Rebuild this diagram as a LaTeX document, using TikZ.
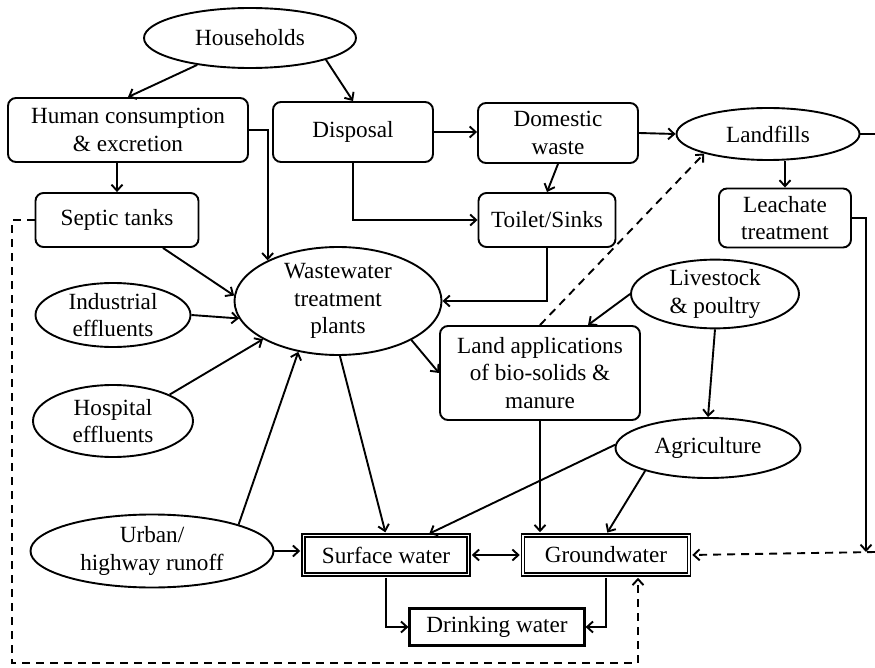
\documentclass[tikz,border=0pt]{standalone}
\usepackage{fontspec}
\setmainfont{Liberation Serif}
\usetikzlibrary{arrows.meta,shapes.geometric,calc}
\begin{document}
\begin{tikzpicture}[x=1pt,y=-1pt,
  every node/.style={font=\fontsize{23.2}{27.5}\selectfont, align=center, inner sep=0pt},
  box/.style={draw, rounded corners=8pt, line width=1.9pt},
  oval/.style={draw, ellipse, line width=1.9pt},
  dbox/.style={draw, double, line width=1.5pt, double distance=1.8pt},
  plainbox/.style={draw, line width=2.2pt},
  arr/.style={-{Straight Barb[length=6pt,width=11pt]}, line width=1.9pt},
  biarr/.style={{Straight Barb[length=6pt,width=11pt]}-{Straight Barb[length=6pt,width=11pt]}, line width=1.9pt},
  dasharr/.style={arr, dash pattern=on 8pt off 6pt},
  plain/.style={line width=1.9pt}
]
\useasboundingbox (0,0) rectangle (875,668);
\fill[white] (0,0) rectangle (875,668);

% nodes
\node[oval, minimum width=212pt, minimum height=60pt] (hh) at (250,38) {Households};
\node[box, minimum width=240pt, minimum height=64pt] (hum) at (128,130) {Human consumption\\\& excretion};
\node[box, minimum width=160pt, minimum height=60pt] (disp) at (353,132) {Disposal};
\node[box, minimum width=160pt, minimum height=60pt] (dom) at (558,133) {Domestic\\waste};
\node[box, minimum width=137pt, minimum height=54pt] (toil) at (547,220) {Toilet/Sinks};
\node[oval, minimum width=183pt, minimum height=52pt] (land) at (768,134) {Landfills};
\node[box, minimum width=132pt, minimum height=59pt] (leach) at (785,218) {Leachate\\treatment};
\node[box, minimum width=163pt, minimum height=54pt] (sept) at (117,220) {Septic tanks};
\node[oval, minimum width=207pt, minimum height=108pt] (wwtp) at (338,301) {Wastewater\\treatment\\plants};
\node[oval, minimum width=155pt, minimum height=64pt] (ind) at (113,315) {Industrial\\effluents};
\node[oval, minimum width=160pt, minimum height=72pt] (hosp) at (113,421) {Hospital\\effluents};
\node[oval, minimum width=243pt, minimum height=73pt] (urb) at (152,551) {Urban/\\highway runoff};
\node[dbox, minimum width=165pt, minimum height=39pt] (sw) at (386,555) {Surface water};
\node[dbox, minimum width=166pt, minimum height=39pt] (gw) at (606,555) {Groundwater};
\node[plainbox, minimum width=175pt, minimum height=37pt] (dw) at (497,627) {Drinking water};
\node[box, minimum width=200pt, minimum height=94pt] (la) at (540,373) {Land applications\\of bio-solids \&\\manure};
\node[oval, minimum width=168pt, minimum height=65pt] (ls) at (715,294) {Livestock\\\& poultry};
\node[oval, minimum width=185pt, minimum height=60pt] (ag) at (708,448) {Agriculture};

% free ends
\coordinate (landend) at (875,134);
\coordinate (rc) at (866,552);
\coordinate (re) at (875,552);
\coordinate (d1) at (12,663);
\coordinate (d2) at (638,663);

% connectors
\draw[arr] (hh.207) -- (hum.north);
\draw[arr] (hh.344) -- (disp.north);
\draw[arr] (sept.north |- hum.south) -- (sept.north);
\draw[arr] (hum.east) -| (wwtp.150);
\draw[arr] (disp.east) -- (disp.east -| dom.west);
\draw[arr] (disp.south) |- (toil.west);
\draw[arr] (dom.south) -- (toil.north);
\draw[arr] (dom.east) -- (land.west);
\draw[arr] (leach.north |- land.south) -- (leach.north);
\draw[plain] (land.east) -- (landend);
\draw[arr] (leach.east) -| (rc);
\draw[dasharr, shorten >=2.5pt] (re) -- (gw.east);
\draw[dasharr, shorten >=2.5pt] (sept.west) -| (d1) -- (d2) -- (d2 |- gw.south);
\draw[arr] ([xshift=46pt]sept.south) -- (wwtp.177);
\draw[arr] (ind.east) -- (wwtp.190);
\draw[arr] (hosp.25) -- (wwtp.207);
\draw[arr] (urb.17) -- (wwtp.232);
\draw[arr, shorten >=2.5pt] (urb.east) -- (urb.east -| sw.west);
\draw[arr, shorten >=2.5pt] (wwtp.272) -- (sw.north);
\draw[arr] (wwtp.332) -- (la.west);
\draw[arr] (toil.south) |- (wwtp.east);
\draw[dasharr] (la.north) -- (land.197);
\draw[arr] (ls.west) -- ([xshift=48pt]la.north);
\draw[arr] (ls.south) -- (ag.north);
\draw[arr, shorten >=2.5pt] (ag.178) -- ([xshift=41pt]sw.north);
\draw[arr, shorten >=2.5pt] (ag.200) -- (gw.north);
\draw[arr, shorten >=2.5pt] (la.south) -- (la.south |- gw.north);
\draw[biarr, shorten >=2.5pt, shorten <=2.5pt] (sw.east) -- (gw.west);
\draw[arr, shorten <=2.5pt] (sw.south) |- (dw.west);
\draw[arr, shorten <=2.5pt] (gw.south) |- (dw.east);
\end{tikzpicture}
\end{document}
